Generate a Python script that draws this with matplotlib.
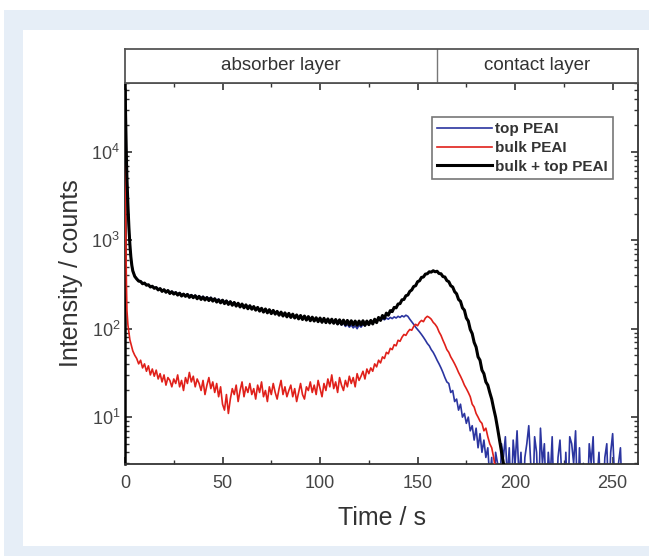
import numpy as np
import matplotlib
matplotlib.use("Agg")
import matplotlib.pyplot as plt
from matplotlib.patches import Rectangle
from matplotlib.ticker import LogLocator, MultipleLocator, NullFormatter

plt.rcParams['font.family'] = ['Liberation Sans', 'DejaVu Sans']

# ---------------- data ----------------
t_early = [0, 0.25, 0.5, 0.75, 1, 1.5, 2, 2.5, 3, 3.5, 4, 5]

black_early = [50000, 30000, 15000, 8000, 5000, 2500, 1400, 900, 650, 520, 450, 390]
black_main = [  # t = 6 .. 195
    365, 345, 342, 322, 328, 310, 314, 296, 302, 286,
    292, 274, 284, 264, 276, 258, 270, 250, 262, 246,
    256, 240, 252, 234, 246, 232, 244, 226, 238, 224,
    236, 218, 232, 214, 228, 211, 225, 208, 222, 205,
    218, 200, 212, 196, 210, 192, 206, 188, 202, 184,
    198, 180, 194, 176, 190, 172, 186, 168, 182, 166,
    178, 162, 174, 158, 170, 154, 167, 151, 164, 148,
    161, 146, 157, 142, 154, 139, 151, 136, 149, 134,
    146, 132, 143, 129, 141, 127, 139, 125, 137, 123,
    135, 122, 133, 120, 132, 118, 131, 117, 129, 116,
    128, 115, 127, 113, 126, 112, 125, 111, 124, 110,
    123, 110, 122, 109, 122, 110, 123, 109, 122, 111,
    124, 113, 128, 117, 134, 124, 141, 131, 150, 142,
    160, 156, 174, 172, 190, 192, 212, 214, 236, 240,
    264, 274, 300, 306, 340, 348, 380, 384, 414, 418,
    440, 436, 452, 440, 446, 420, 418, 388, 384, 350,
    340, 306, 296, 262, 248, 214, 204, 172, 162, 132,
    122, 98, 88, 70, 62, 48, 44, 34, 31, 25,
    23, 19, 16, 12.5, 10, 7.5, 5.5, 4, 3, 2,
]

blue_early = [48000, 28000, 14000, 7600, 4800, 2400, 1350, 880, 640, 515, 455, 395]
blue_main = [  # t = 6 .. 256
    370, 352, 345, 328, 326, 318, 310, 304, 298, 294,
    292, 282, 284, 272, 276, 266, 270, 260, 264, 255,
    258, 248, 254, 242, 248, 240, 246, 236, 242, 233,
    238, 228, 234, 224, 232, 220, 228, 218, 226, 214,
    220, 210, 216, 204, 212, 200, 208, 196, 204, 192,
    198, 188, 194, 182, 190, 178, 186, 174, 182, 172,
    176, 168, 172, 164, 168, 160, 165, 156, 162, 154,
    158, 151, 155, 148, 152, 145, 149, 142, 147, 140,
    144, 137, 141, 134, 139, 132, 137, 130, 135, 128,
    133, 127, 131, 125, 130, 124, 129, 122, 127, 121,
    122, 116, 120, 112, 118, 110, 116, 106, 112, 104,
    110, 102, 108, 100, 110, 104, 112, 108, 116, 112,
    120, 116, 124, 120, 128, 124, 130, 126, 132, 128,
    134, 130, 136, 132, 138, 134, 140, 136, 142, 138,
    128, 120, 112, 104, 98, 92, 86, 80, 74, 68,
    64, 58, 54, 49, 44, 40, 36, 32, 28, 25,
    24, 19, 20, 15, 16, 12, 14, 10, 11, 8.5,
    10, 7, 8, 5.5, 7.5, 4.5, 6.5, 4, 5.5, 3.5,
    4.5, 2, 3.5, 1, 4, 3, 1, 5, 3.5, 6,
    2, 4.5, 1, 5.5, 3, 7, 2, 4, 1, 3.5,
    5, 8, 3, 1, 6, 4, 1, 7.5, 3, 5,
    1, 4, 2, 6, 1, 1, 3.5, 5.5, 2, 1,
    4, 1, 6, 5, 3, 7, 1, 4.5, 1, 3,
    1, 1, 5, 3, 6, 1, 2, 4, 1, 1,
    3.5, 5, 1, 4, 6.5, 2, 1, 3, 4.5, 1,
    1,
]

red_early = [9000, 2500, 800, 300, 160, 110, 90, 75, 68, 62, 56, 50]
red_main = [  # t = 6 .. 191
    46, 40, 44, 36, 40, 33, 38, 30, 35, 29,
    34, 27, 31, 25, 30, 23, 28, 26, 22, 27,
    24, 30, 22, 26, 20, 28, 24, 32, 25, 29,
    22, 27, 24, 20, 26, 18, 23, 28, 21, 25,
    19, 24, 17, 22, 14, 12, 18, 11, 16, 21,
    18, 23, 15, 20, 25, 17, 22, 19, 24, 18,
    21, 16, 23, 19, 25, 17, 20, 15, 22, 18,
    24, 19, 16, 21, 26, 18, 22, 17, 20, 23,
    17, 21, 15, 19, 24, 18, 16, 22, 20, 25,
    19, 23, 18, 26, 21, 17, 24, 20, 27, 22,
    30, 21, 25, 19, 28, 23, 20, 26, 22, 29,
    24, 28, 22, 31, 26, 29, 33, 27, 35, 31,
    36, 33, 40, 37, 44, 41, 48, 46, 54, 52,
    60, 58, 66, 64, 74, 72, 80, 86, 84, 92,
    98, 96, 106, 112, 108, 118, 124, 120, 132, 138,
    134, 128, 118, 112, 104, 92, 84, 74, 66, 58,
    54, 48, 44, 40, 36, 32, 29, 26, 23, 21,
    19, 17, 14, 13, 11, 10, 9, 8.5, 7, 7.5,
    6, 5, 4.5, 3.5, 2.5, 1.5,
]

labels = ["top PEAI", "bulk PEAI", "bulk + top PEAI"]
band_labels = ["absorber layer", "contact layer"]
band_edges = [0, 160, 263]
x_ticks = [0, 50, 100, 150, 200, 250]


def series(early, main):
    t = list(t_early) + list(range(6, 6 + len(main)))
    return np.array(t, float), np.array(list(early) + list(main), float)


tb, yb = series(blue_early, blue_main)
tr, yr = series(red_early, red_main)
tk, yk = series(black_early, black_main)

# ---------------- figure ----------------
W, H = 649, 556
fig = plt.figure(figsize=(W / 100, H / 100), dpi=100)
fig.patch.set_facecolor('white')
bg = '#e6eef7'
fig.patches.append(Rectangle((4 / W, 0), 1 - 4 / W, 1 - 10 / H, transform=fig.transFigure,
                             facecolor=bg, edgecolor='none', zorder=-10))
fig.patches.append(Rectangle((23 / W, 10 / H), 1 - 23 / W, (546 - 30) / H, transform=fig.transFigure,
                             facecolor='white', edgecolor='none', zorder=-9))

left, right = 125 / W, 638 / W
bottom, top = 1 - 464 / H, 1 - 83 / H
band_top = 1 - 49 / H

ax = fig.add_axes([left, bottom, right - left, top - bottom])
ax.plot(tb, yb, color='#2b35a0', lw=1.2, label=labels[0], zorder=2)
ax.plot(tr, yr, color='#e0201a', lw=1.2, label=labels[1], zorder=3)
ax.plot(tk, yk, color='black', lw=2.2, label=labels[2], zorder=4)

ax.set_yscale('log')
ax.set_ylim(2.95, 6.0e4)
ax.set_xlim(band_edges[0], band_edges[-1])
ax.set_xticks(x_ticks)
ax.xaxis.set_minor_locator(MultipleLocator(25))
ax.yaxis.set_major_locator(LogLocator(base=10, numticks=10))
ax.yaxis.set_minor_locator(LogLocator(base=10, subs=np.arange(2, 10), numticks=20))
ax.yaxis.set_minor_formatter(NullFormatter())
ax.tick_params(which='both', direction='in', top=True, right=True, colors='#333333',
               labelsize=13, labelcolor='#444444')
ax.tick_params(which='major', length=5, width=1.2)
ax.tick_params(which='minor', length=3, width=1.0)
ax.tick_params(axis='x', pad=8)
for s in ax.spines.values():
    s.set_color('#333333')
    s.set_linewidth(1.3)
ax.spines['left'].set_linewidth(1.8)
ax.spines['left'].set_color('black')

ax.set_xlabel('Time / s', fontsize=18, color='#333333', labelpad=10)
ax.set_ylabel('Intensity / counts', fontsize=18, color='#333333', labelpad=6)

leg = ax.legend(loc='upper right', bbox_to_anchor=(613 / W, 1 - 117 / H), bbox_transform=fig.transFigure,
                frameon=True, fancybox=False, fontsize=11, handlelength=3.6, handletextpad=0.2,
                borderpad=0.35, labelspacing=0.3, borderaxespad=0)
leg.get_frame().set_edgecolor('#555555')
leg.get_frame().set_linewidth(1.2)
for txt in leg.get_texts():
    txt.set_fontweight('bold')
    txt.set_color('#333333')

# top band
bax = fig.add_axes([left, top, right - left, band_top - top])
bax.set_xlim(band_edges[0], band_edges[-1])
bax.set_ylim(0, 1)
bax.set_xticks([])
bax.set_yticks([])
for s in bax.spines.values():
    s.set_color('#555555')
    s.set_linewidth(1.3)
bax.axvline(band_edges[1], color='#777777', lw=1.0)
for i, lab in enumerate(band_labels):
    bax.text((band_edges[i] + band_edges[i + 1]) / 2, 0.5, lab, ha='center', va='center',
             fontsize=13.5, color='#333333')

fig.savefig('out.png', dpi=100)
